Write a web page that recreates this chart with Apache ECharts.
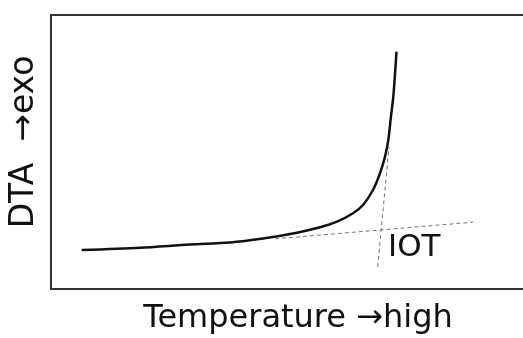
<!DOCTYPE html>
<html>
<head>
<meta charset="utf-8">
<script src="https://cdn.jsdelivr.net/npm/echarts@6/dist/echarts.min.js"></script>
<style>
  html, body { margin: 0; padding: 0; background: #fff; }
  #chart { width: 523px; height: 338px; }
</style>
</head>
<body>
<div id="chart"></div>
<script>
// DTA trace: heat flow rises sharply at the ignition onset (arbitrary units, 0-100 scale)
const temperature = [6.40, 18.54, 28.96, 37.29, 44.17, 51.25, 56.04, 59.58, 62.92, 65.00, 67.08, 68.54, 69.58, 70.27, 70.79, 71.31, 71.67, 71.98];
const dtaSignal   = [14.23, 15.07, 16.24, 16.97, 18.43, 20.55, 22.52, 24.56, 27.63, 30.66, 36.13, 42.23, 48.28, 54.38, 62.41, 70.18, 78.47, 86.61];

// Tangent construction lines
const baselineX = [46.67, 87.92];
const baselineY = [18.32, 24.38];
const steepX = [68.06, 70.42];
const steepY = [8.03, 51.93];

// Ignition onset temperature (intersection of the two tangents)
const iotPoint = [68.75, 21.57];
const iotLabel = 'IOT';

const xName = 'Temperature \u2192high';
const yName = 'DTA  \u2192exo';

const zip = (a, b) => a.map((v, i) => [v, b[i]]);
const font = '"DejaVu Sans", "Liberation Sans", sans-serif';

const chart = echarts.init(document.getElementById('chart'), null, { renderer: 'canvas' });
chart.setOption({
  animation: false,
  backgroundColor: '#fff',
  grid: {
    left: 51, top: 15, width: 480, height: 274,
    outerBoundsMode: 'none', containLabel: false,
    show: true, borderColor: '#333', borderWidth: 2, backgroundColor: 'transparent'
  },
  xAxis: {
    type: 'value', min: 0, max: 100,
    name: xName, nameLocation: 'middle', nameGap: 14,
    nameTextStyle: { fontFamily: font, fontSize: 32, color: '#111', padding: [0, 0, 0, 14] },
    axisLine: { show: false }, axisTick: { show: false }, axisLabel: { show: false }, splitLine: { show: false }
  },
  yAxis: {
    type: 'value', min: 0, max: 100,
    name: yName, nameLocation: 'middle', nameGap: 10, nameRotate: 90,
    nameTextStyle: { fontFamily: font, fontSize: 33, color: '#111', padding: [0, 0, 0, 20] },
    axisLine: { show: false }, axisTick: { show: false }, axisLabel: { show: false }, splitLine: { show: false }
  },
  series: [
    {
      type: 'line', data: zip(baselineX, baselineY), symbol: 'none',
      lineStyle: { color: '#777', width: 1, type: [4, 3] }, z: 1
    },
    {
      type: 'line', data: zip(steepX, steepY), symbol: 'none',
      lineStyle: { color: '#777', width: 1, type: [4, 3] }, z: 1
    },
    {
      type: 'line', data: zip(temperature, dtaSignal), symbol: 'none',
      smooth: 0.3,
      lineStyle: { color: '#111', width: 2.5 }, z: 3
    },
    {
      type: 'scatter', data: [iotPoint], symbolSize: 0,
      itemStyle: { opacity: 1, color: 'rgba(0,0,0,0)' },
      label: {
        show: true, formatter: iotLabel, position: [7, 18],
        align: 'left', verticalAlign: 'middle',
        fontFamily: font, fontSize: 31, color: '#111'
      }
    }
  ]
});
</script>
</body>
</html>
